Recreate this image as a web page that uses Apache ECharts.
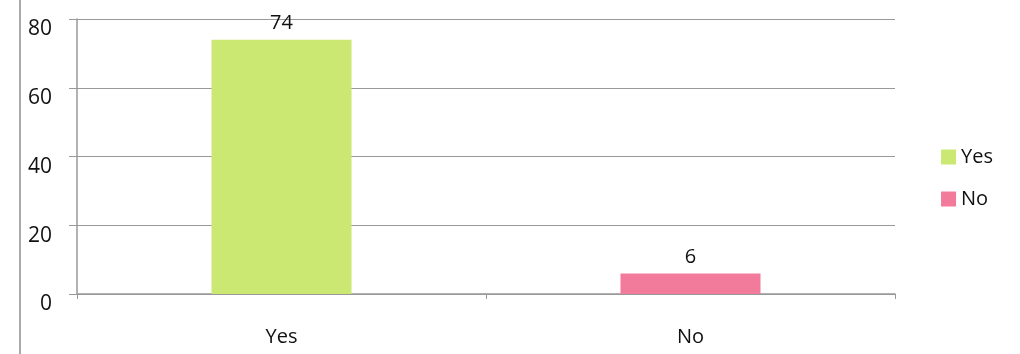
<!DOCTYPE html>
<html>
<head>
<meta charset="utf-8">
<script src="https://cdn.jsdelivr.net/npm/echarts@6/dist/echarts.min.js"></script>
<style>
  html, body { margin: 0; padding: 0; background: #fff; }
  #chart { width: 1020px; height: 354px; }
</style>
</head>
<body>
<div id="chart"></div>
<script>
// data
var categories = ['Yes', 'No']
var yesValues = [74, null]
var noValues = [null, 6]
var yTicks = { min: 0, max: 80, interval: 20 }

var font = '"Open Sans", "Liberation Sans", sans-serif'
var chart = echarts.init(document.getElementById('chart'))

chart.setOption({
  animation: false,
  textStyle: { fontFamily: font },
  grid: {
    left: 77,
    right: 125,
    top: 19,
    bottom: 60
  },
  legend: {
    orient: 'vertical',
    right: 22,
    top: 142,
    itemWidth: 15,
    itemHeight: 15,
    itemGap: 22,
    icon: 'rect',
    textStyle: { fontSize: 20, color: '#111', fontFamily: font },
    data: ['Yes', 'No']
  },
  xAxis: {
    type: 'category',
    data: categories,
    axisLine: { lineStyle: { color: '#999', width: 1.5 } },
    axisTick: { show: true, alignWithLabel: false, lineStyle: { color: '#999' } },
    axisLabel: { fontSize: 20, color: '#111', margin: 33 }
  },
  yAxis: {
    type: 'value',
    min: yTicks.min,
    max: yTicks.max,
    interval: yTicks.interval,
    axisLine: { show: true, lineStyle: { color: '#999', width: 1.5 } },
    axisTick: { show: true, length: 8, lineStyle: { color: '#999' } },
    axisLabel: { fontSize: 21, color: '#111', margin: 25, verticalAlign: 'top' },
    splitLine: { lineStyle: { color: '#999', width: 1.2 } }
  },
  graphic: [
    {
      type: 'line',
      shape: { x1: 20, y1: 0, x2: 20, y2: 354 },
      style: { stroke: '#aaa', lineWidth: 2 }
    }
  ],
  series: [
    {
      name: 'Yes',
      type: 'bar',
      stack: 'all',
      barWidth: 140,
      data: yesValues,
      itemStyle: { color: '#cbe873' },
      label: {
        show: true,
        position: 'top',
        distance: 6,
        fontSize: 20,
        color: '#111'
      }
    },
    {
      name: 'No',
      type: 'bar',
      stack: 'all',
      data: noValues,
      itemStyle: { color: '#f27a9b' },
      label: {
        show: true,
        position: 'top',
        distance: 6,
        fontSize: 20,
        color: '#111'
      }
    }
  ]
})
</script>
</body>
</html>
